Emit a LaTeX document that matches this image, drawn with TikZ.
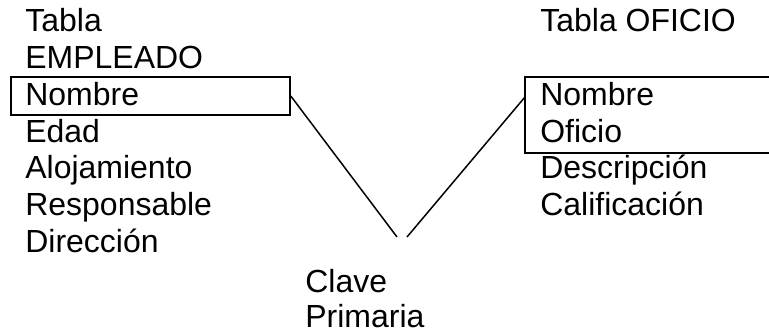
\documentclass[tikz,border=0pt]{standalone}
\usepackage{fontspec}
\setmainfont{Liberation Sans}
\usepackage{tikz}

\begin{document}
\begin{tikzpicture}
  [every node/.style={inner sep=0pt,anchor=base west,font=\fontsize{18.2}{21}\selectfont},
   caja/.style={draw,line width=.9pt,anchor=center},
   enlace/.style={line width=.85pt}]
  \useasboundingbox (0,0) rectangle (15.38,6.7);

  % tabla de empleados
  \foreach \campo [count=\i from 0] in {Tabla,EMPLEADO,Nombre,Edad,Alojamiento,Responsable,Dirección}
    \node (emp\i) at (0.5,6.06-0.735*\i) {\campo};

  % tabla de oficios
  \node (ofi0) at (10.8,6.06) {Tabla OFICIO};
  \foreach \campo [count=\i from 2] in {Nombre,Oficio,Descripción,Calificación}
    \node (ofi\i) at (10.8,6.06-0.735*\i) {\campo};

  \node (clave) at (6.1,0.84) {Clave};
  \node (primaria) at (6.1,0.14) {Primaria};

  % claves marcadas
  \node[caja,minimum width=5.58cm,minimum height=0.76cm] (cajaE) at (3.01,4.78) {};
  \node[caja,minimum width=4.92cm,minimum height=1.52cm] (cajaO) at (12.96,4.4) {};

  \coordinate (puntaE) at (7.94,1.96);
  \coordinate (puntaO) at (8.14,1.96);
  \coordinate (entradaO) at (10.5,4.76);

  \draw[enlace] (cajaE.east) -- (puntaE);
  \draw[enlace] (puntaO) -- (entradaO);

\end{tikzpicture}
\end{document}
